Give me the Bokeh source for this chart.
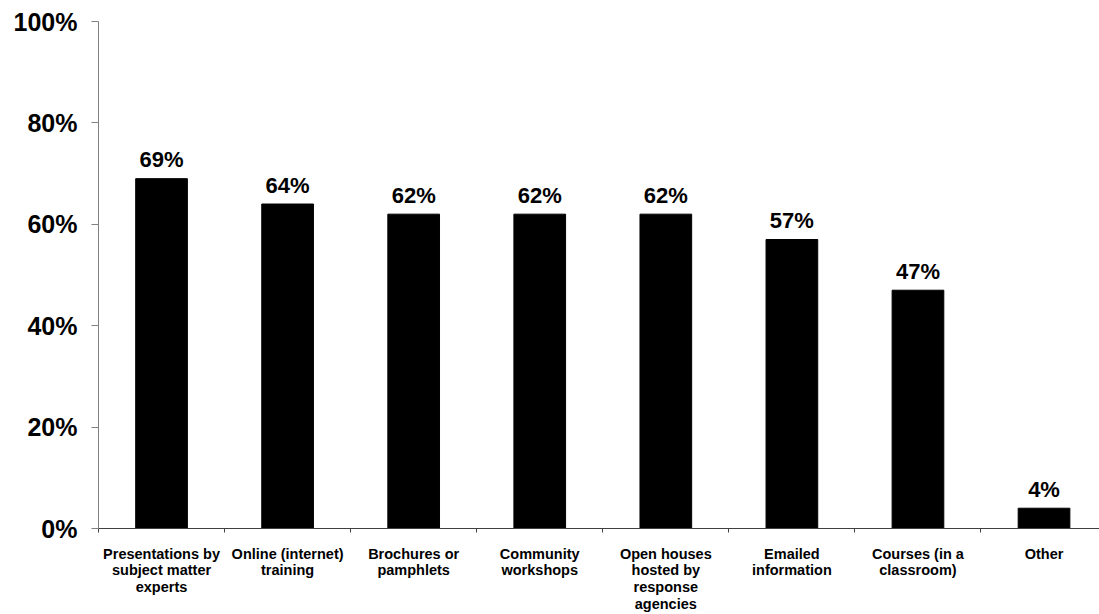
from bokeh.plotting import figure
from bokeh.models import Range1d, FixedTicker, LinearAxis, ColumnDataSource
from bokeh.core.properties import value
from bokeh.embed import file_html
from bokeh.resources import INLINE

categories = ["Presentations by\nsubject matter\nexperts", "Online (internet)\ntraining",
              "Brochures or\npamphlets", "Community\nworkshops",
              "Open houses\nhosted by\nresponse\nagencies", "Emailed\ninformation",
              "Courses (in a\nclassroom)", "Other"]
values = [69, 64, 62, 62, 62, 57, 47, 4]
y_ticks = [0, 20, 40, 60, 80, 100]

FONT = "Liberation Sans"
n = len(categories)
xs = [i + 0.5 for i in range(n)]
src = ColumnDataSource(dict(x=xs, top=values, label=[f"{v}%" for v in values]))

p = figure(width=1099, height=614, output_backend="svg", toolbar_location=None,
           x_range=Range1d(0, 7.94), y_range=Range1d(0, 100),
           min_border_left=98, min_border_right=0, min_border_top=21, min_border_bottom=86,
           x_axis_location=None, y_axis_location=None)
p.outline_line_color = None
p.xgrid.visible = False
p.ygrid.visible = False
p.background_fill_color = "white"

p.vbar(x="x", top="top", bottom=0, width=0.41, source=src, fill_color="black", line_color="black")
p.text(x="x", y="top", text="label", source=src, text_align="center", text_baseline="alphabetic",
       y_offset=-19, text_font=value(FONT), text_font_style="bold", text_font_size="22px",
       text_color="black")

# y axis
ya = LinearAxis(ticker=FixedTicker(ticks=y_ticks))
ya.major_label_overrides = {t: f"{t}%" for t in y_ticks}
ya.major_label_text_font = FONT
ya.major_label_text_font_style = "bold"
ya.major_label_text_font_size = "25px"
ya.major_label_text_color = "black"
ya.major_label_standoff = 14
ya.axis_line_color = "#808080"
ya.major_tick_line_color = "#808080"
ya.major_tick_out = 7
ya.major_tick_in = 0
ya.minor_tick_line_color = None
p.add_layout(ya, "left")

# x axis: category labels at centres, boundary ticks as minor ticks
xl = LinearAxis(ticker=FixedTicker(ticks=xs, minor_ticks=list(range(n + 1))))
xl.major_label_overrides = {x: c for x, c in zip(xs, categories)}
xl.major_label_text_font = FONT
xl.major_label_text_font_style = "bold"
xl.major_label_text_font_size = "14.5px"
xl.major_label_text_color = "black"
xl.major_label_text_line_height = 1.05
xl.axis_line_color = "#404040"
xl.major_tick_line_color = None
xl.major_tick_out = 0
xl.major_tick_in = 0
xl.minor_tick_line_color = "#404040"
xl.minor_tick_out = 4
xl.minor_tick_in = 0
xl.major_label_standoff = 13
p.add_layout(xl, "below")

open("out.html", "w").write(file_html(p, INLINE))
